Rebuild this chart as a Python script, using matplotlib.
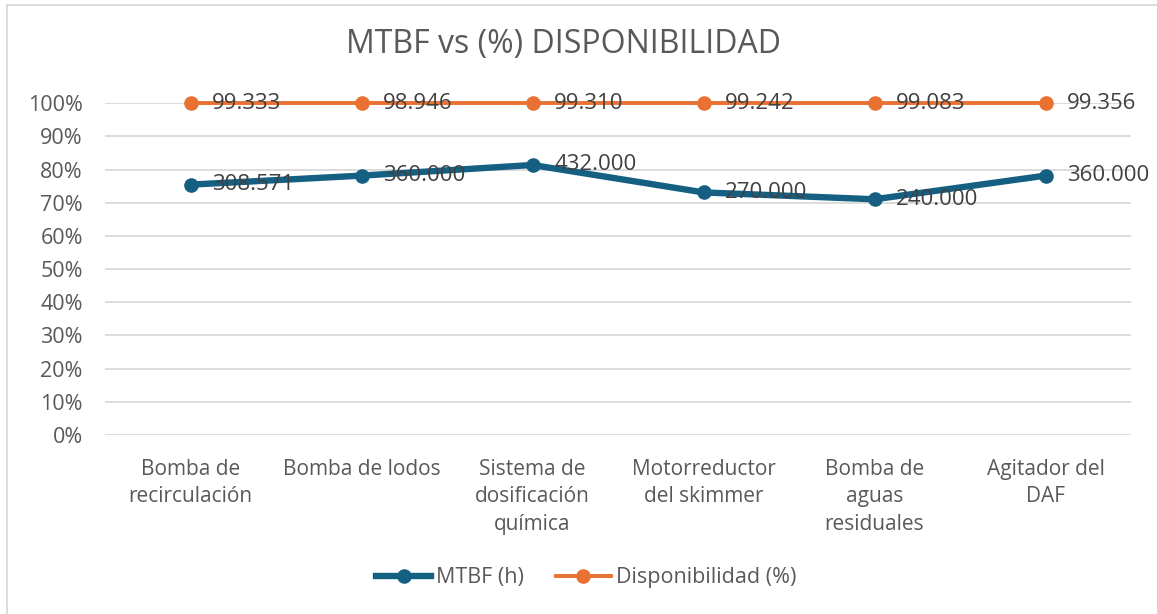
import numpy as np
import matplotlib
matplotlib.use("Agg")
import matplotlib.pyplot as plt
from matplotlib.patches import Rectangle
from matplotlib.ticker import PercentFormatter, NullLocator

plt.rcParams['font.family'] = ['Open Sans', 'DejaVu Sans']

# --- data ---
categories = [
    "Bomba de\nrecirculación",
    "Bomba de lodos",
    "Sistema de\ndosificación\nquímica",
    "Motorreductor\ndel skimmer",
    "Bomba de\naguas\nresiduales",
    "Agitador del\nDAF",
]
mtbf_h = [308.571, 360.000, 432.000, 270.000, 240.000, 360.000]
disponibilidad = [99.333, 98.946, 99.310, 99.242, 99.083, 99.356]

title = "MTBF vs (%) DISPONIBILIDAD"
series_names = ["MTBF (h)", "Disponibilidad (%)"]

# --- style ---
BLUE = "#156082"
ORANGE = "#E97132"
GRID = "#D9D9D9"
AXIS_TXT = "#595959"
LABEL_TXT = "#404040"

W, H, DPI = 1157, 614, 100
fig = plt.figure(figsize=(W / DPI, H / DPI), dpi=DPI)
fig.patch.set_facecolor("white")

# chart-area border
fig.add_artist(Rectangle((7 / W, -0.1), 1.2, (1 - 4.5 / H) + 0.1,
                         transform=fig.transFigure, fill=False,
                         edgecolor=GRID, linewidth=1.3))

left, right = 105 / W, 1131 / W
bottom, top = 1 - 435 / H, 1 - 103.3 / H
ax = fig.add_axes([left, bottom, right - left, top - bottom])
ax2 = ax.twinx()

x = np.arange(len(categories))
y_max = 1.0

# primary (percentage) axis
ax.set_ylim(0, y_max)
ax.set_xlim(-0.5, len(categories) - 0.5)
ax.set_yticks(np.linspace(0, 1, 11))
ax.yaxis.set_major_formatter(PercentFormatter(1.0, decimals=0))
ax.grid(axis="y", color=GRID, linewidth=1.3)
ax.set_axisbelow(True)
for s in ax.spines.values():
    s.set_visible(False)
ax.tick_params(axis="y", length=0, pad=16, labelsize=15.5, labelcolor=AXIS_TXT)
ax.set_xticks(x)
ax.set_xticklabels(categories, fontsize=15, color=AXIS_TXT, linespacing=1.42)
ax.tick_params(axis="x", length=0, pad=17)

# secondary hidden axis for MTBF (drawn above the primary grid)
ax2.set_yscale("log")
ax2.set_ylim(4.22, 1244)
ax2.yaxis.set_major_locator(NullLocator())
ax2.yaxis.set_minor_locator(NullLocator())
for s in ax2.spines.values():
    s.set_visible(False)

# availability series (values beyond the axis maximum sit on the top edge)
disp_plot = np.clip(disponibilidad, 0, y_max)
ax.plot(x, disp_plot, color=ORANGE, linewidth=2.8, marker="o",
        markersize=9.5, label=series_names[1], zorder=3, clip_on=False)
for xi, yi, v in zip(x, disp_plot, disponibilidad):
    ax.annotate(f"{v:.3f}", (xi, yi), xytext=(15.5, 0), textcoords="offset points",
                ha="left", va="center", fontsize=16, color=LABEL_TXT,
                zorder=6, annotation_clip=False)

# MTBF series
ax2.plot(x, mtbf_h, color=BLUE, linewidth=4.6, marker="o",
         markersize=9.5, label=series_names[0], zorder=3)
for xi, v in zip(x, mtbf_h):
    ax2.annotate(f"{v:.3f}", (xi, v), xytext=(15.5, 0), textcoords="offset points",
                 ha="left", va="center", fontsize=16, color=LABEL_TXT, zorder=6)

# title
fig.text(564 / W, 1 - 45 / H, title, ha="center", va="center",
         fontsize=23, color=AXIS_TXT)

# legend
h2, l2 = ax2.get_legend_handles_labels()
h1, l1 = ax.get_legend_handles_labels()
fig.legend(h2 + h1, l2 + l1, loc="center", bbox_to_anchor=(586 / W, 1 - 578 / H),
           ncol=2, frameon=False, fontsize=15.5, labelcolor=AXIS_TXT,
           handlelength=2.55, handletextpad=0.22, columnspacing=1.5)

fig.savefig("out.png", dpi=DPI, facecolor="white")
